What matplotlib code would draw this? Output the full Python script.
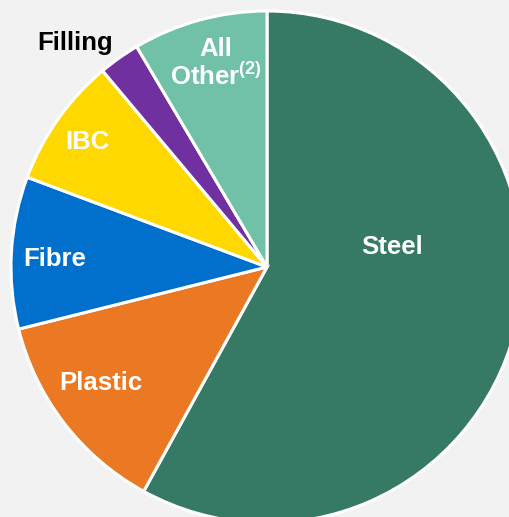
import matplotlib.pyplot as plt

plt.rcParams['font.family'] = 'Liberation Sans'
plt.rcParams['mathtext.fontset'] = 'custom'
plt.rcParams['mathtext.rm'] = 'Liberation Sans:bold'

segments = ['Steel', 'Plastic', 'Fibre', 'IBC', 'Filling', 'All Other']
shares = [58.0, 13.1, 9.6, 8.2, 2.6, 8.5]
colors = ['#367A65', '#EB7823', '#0070CC', '#FFD800', '#7030A0', '#70C1A8']
label_text = ['Steel', 'Plastic', 'Fibre', 'IBC', 'Filling', 'All\nOther$^{\\rm (2)}$']
label_pos = [(0.49, 0.08), (-0.65, -0.455), (-0.83, 0.03), (-0.70, 0.49),
             (-0.75, 0.875), (-0.20, 0.795)]
label_color = ['white', 'white', 'white', 'white', 'black', 'white']

fig = plt.figure(figsize=(5.10, 5.17), dpi=100)
fig.patch.set_facecolor('#F2F2F2')
ax = fig.add_axes([0, 0, 1, 1])
ax.set_facecolor('#F2F2F2')

ax.pie(shares, colors=colors, startangle=90, counterclock=False, radius=1.0,
       wedgeprops=dict(edgecolor='white', linewidth=2.2))

for txt, (x, y), c in zip(label_text, label_pos, label_color):
    ax.text(x, y, txt, color=c, fontsize=18.5, fontweight='bold',
            ha='center', va='center', linespacing=1.05)

R = 256.0
ax.set_xlim(-267 / R, (510 - 267) / R)
ax.set_ylim((267 - 517) / R, 267 / R)
ax.set_aspect('equal')
ax.axis('off')

plt.savefig('out.png', dpi=100, facecolor=fig.get_facecolor())
